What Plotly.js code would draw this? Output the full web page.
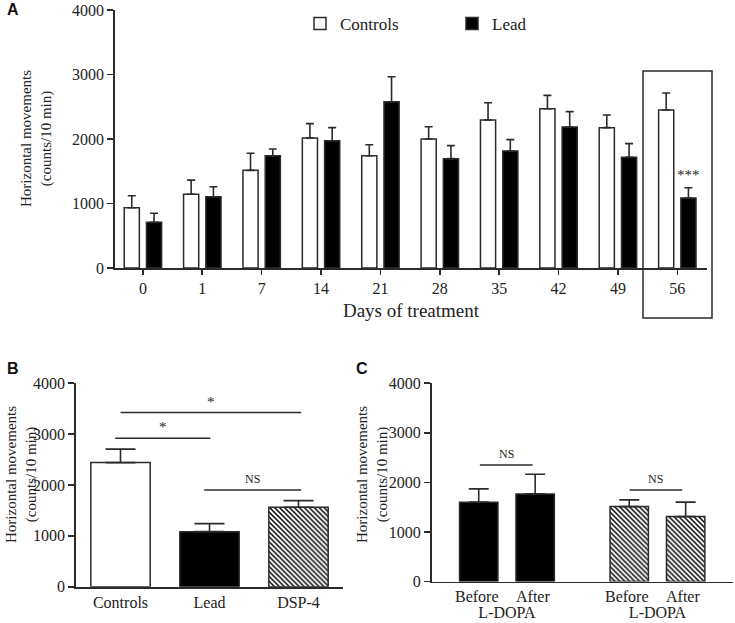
<!DOCTYPE html>
<html>
<head>
<meta charset="utf-8">
<script src="https://cdn.plot.ly/plotly-3.0.1.min.js"></script>
<style>html,body{margin:0;padding:0;background:#fff;}#chart{width:735px;height:623px;}</style>
</head>
<body>
<div id="chart"></div>
<script>
// ---- Panel A data ----
var days = ['0', '1', '7', '14', '21', '28', '35', '42', '49', '56'];
var controlsA = [935, 1143, 1514, 2015, 1741, 2000, 2295, 2470, 2176, 2450];
var controlsAErr = [186, 220, 264, 223, 171, 191, 268, 207, 196, 263];
var leadA = [708, 1105, 1741, 1974, 2578, 1695, 1814, 2186, 1716, 1085];
var leadAErr = [140, 155, 104, 202, 388, 202, 176, 238, 212, 160];

// ---- Panel B data ----
var groupsB = ['Controls', 'Lead', 'DSP-4'];
var valuesB = [2441, 1083, 1563];
var errB = [264, 157, 130];

// ---- Panel C data ----
var groupsC = ['Lead', 'DSP-4'];
var beforeC = [1601, 1512];
var beforeCErr = [268, 135];
var afterC = [1768, 1310];
var afterCErr = [397, 291];

var yTicks = [0, 1000, 2000, 3000, 4000];

var SERIF = 'Liberation Serif';
var SANS = 'Liberation Sans';
var INK = '#2b2b2b';
var TXT = '#222222';

function errUp(arr, w) {
  return {type: 'data', symmetric: false, array: arr, arrayminus: arr.map(function(){return 0;}),
          color: INK, thickness: 1.6, width: w};
}

var HATCH = {fgcolor: '#000000', bgcolor: '#ffffff', size: 3.5, solidity: 0.42};

var traces = [
  {type: 'bar', name: 'Controls', x: days, y: controlsA, xaxis: 'x', yaxis: 'y',
   marker: {color: '#ffffff', line: {color: INK, width: 1.5}}, error_y: errUp(controlsAErr, 4)},
  {type: 'bar', name: 'Lead', x: days, y: leadA, xaxis: 'x', yaxis: 'y',
   marker: {color: '#000000', line: {color: INK, width: 1.5}}, error_y: errUp(leadAErr, 4)},
  {type: 'bar', name: 'Panel B', x: groupsB, y: valuesB, xaxis: 'x2', yaxis: 'y2', showlegend: false,
   width: 0.667,
   marker: {color: ['#ffffff', '#000000', '#000000'], line: {color: INK, width: 1.5},
            pattern: Object.assign({shape: ['', '', '\\']}, HATCH)},
   error_y: errUp(errB, 15)},
  {type: 'bar', name: 'Before L-DOPA', x: groupsC, y: beforeC, xaxis: 'x3', yaxis: 'y3', showlegend: false,
   marker: {color: ['#000000', '#000000'], line: {color: INK, width: 1.5},
            pattern: Object.assign({shape: ['', '\\']}, HATCH)},
   error_y: errUp(beforeCErr, 10)},
  {type: 'bar', name: 'After L-DOPA', x: groupsC, y: afterC, xaxis: 'x3', yaxis: 'y3', showlegend: false,
   marker: {color: ['#000000', '#000000'], line: {color: INK, width: 1.5},
            pattern: Object.assign({shape: ['', '\\']}, HATCH)},
   error_y: errUp(afterCErr, 10)}
];

function yAxis(domain, anchor) {
  return {domain: domain, anchor: anchor, range: [0, 4000], tickvals: yTicks, ticks: 'outside',
          ticklen: 6, tickwidth: 1.6, tickcolor: INK, showline: true, linecolor: INK, linewidth: 1.8,
          showgrid: false, zeroline: false, tickfont: {family: SERIF, size: 16, color: TXT}, fixedrange: true};
}
function xAxis(domain, anchor, extra) {
  var a = {domain: domain, anchor: anchor, type: 'category', showline: true, linecolor: INK, linewidth: 1.8,
           showgrid: false, zeroline: false, tickfont: {family: SERIF, size: 16, color: TXT}, fixedrange: true};
  for (var k in extra) a[k] = extra[k];
  return a;
}

var W = 735, H = 623;
function px(v) { return v / W; }
function py(v) { return 1 - v / H; }

function note(text, x, y, opts) {
  var a = {text: text, xref: 'paper', yref: 'paper', x: x, y: y, xanchor: 'center', yanchor: 'middle',
           showarrow: false, font: {family: SERIF, size: 15, color: TXT}};
  for (var k in opts) a[k] = opts[k];
  return a;
}

var iLast = days.indexOf('56');

var layout = {
  width: W, height: H,
  margin: {l: 0, r: 0, t: 0, b: 0},
  paper_bgcolor: '#ffffff', plot_bgcolor: 'rgba(0,0,0,0)',
  barmode: 'group', bargap: 0.25, bargroupgap: 0.32,
  showlegend: true,
  legend: {orientation: 'h', x: px(300), y: py(6), xanchor: 'left', yanchor: 'top',
           font: {family: SERIF, size: 17, color: TXT}, entrywidth: 107, entrywidthmode: 'pixels',
           bgcolor: 'rgba(0,0,0,0)', traceorder: 'normal'},
  xaxis: xAxis([px(115), px(707)], 'y', {range: [-0.47, 9.5], ticks: 'outside', ticklen: 5, tickwidth: 1.6, tickcolor: INK,
          title: {text: 'Days of treatment', font: {family: SERIF, size: 19, color: TXT}, standoff: 8}}),
  yaxis: yAxis([py(268), py(10)], 'x'),
  xaxis2: xAxis([px(76), px(343)], 'y2', {range: [-0.5, 2.5], ticks: ''}),
  yaxis2: yAxis([py(586.7), py(383.3)], 'x2'),
  xaxis3: xAxis([px(431.7), px(732.7)], 'y3', {range: [-0.5, 1.5], ticks: '',
           tickvals: groupsC, ticktext: ['L-DOPA', 'L-DOPA'], ticklabelstandoff: 15}),
  yaxis3: yAxis([py(581.5), py(383.3)], 'x3'),
  shapes: [
    {type: 'rect', xref: 'paper', yref: 'paper', x0: px(643), x1: px(712), y0: py(318), y1: py(71),
     line: {color: INK, width: 1.5}, fillcolor: 'rgba(0,0,0,0)'},
    {type: 'line', xref: 'x2', yref: 'y2', x0: -0.06, x1: 1.01, y0: 2921, y1: 2921, line: {color: INK, width: 1.5}},
    {type: 'line', xref: 'x2', yref: 'y2', x0: 0.0, x1: 2.03, y0: 3425, y1: 3425, line: {color: INK, width: 1.5}},
    {type: 'line', xref: 'x2', yref: 'y2', x0: 0.94, x1: 2.03, y0: 1903, y1: 1903, line: {color: INK, width: 1.5}},
    {type: 'line', xref: 'x3', yref: 'y3', x0: -0.18, x1: 0.17, y0: 2353, y1: 2353, line: {color: INK, width: 1.5}},
    {type: 'line', xref: 'x3', yref: 'y3', x0: 0.815, x1: 1.165, y0: 1849, y1: 1849, line: {color: INK, width: 1.5}}
  ],
  annotations: [
    note('<b>A</b>', px(13), py(10), {font: {family: SANS, size: 16, color: '#111'}}),
    note('<b>B</b>', px(13), py(368), {font: {family: SANS, size: 16, color: '#111'}}),
    note('<b>C</b>', px(362), py(368), {font: {family: SANS, size: 16, color: '#111'}}),
    note('Horizontal movements<br>(counts/10 min)', px(36), py(139), {textangle: -90}),
    note('Horizontal movements<br>(counts/10 min)', px(21), py(475), {textangle: -90}),
    note('Horizontal movements<br>(counts/10 min)', px(372), py(475), {textangle: -90}),
    {text: '***', xref: 'x', yref: 'y', x: iLast, xshift: 11, y: leadA[iLast] + leadAErr[iLast], xanchor: 'center', yanchor: 'bottom', yshift: 3,
     showarrow: false, font: {family: SERIF, size: 15, color: TXT}},
    {text: '*', xref: 'x2', yref: 'y2', x: 0.475, y: 2921, xanchor: 'center', yanchor: 'bottom', yshift: 1, showarrow: false, font: {family: SERIF, size: 15, color: TXT}},
    {text: '*', xref: 'x2', yref: 'y2', x: 1.015, y: 3425, xanchor: 'center', yanchor: 'bottom', yshift: 1, showarrow: false, font: {family: SERIF, size: 15, color: TXT}},
    {text: 'NS', xref: 'x2', yref: 'y2', x: 1.485, y: 1903, xanchor: 'center', yanchor: 'bottom', yshift: 2, showarrow: false, font: {family: SERIF, size: 12, color: TXT}},
    {text: 'NS', xref: 'x3', yref: 'y3', x: -0.005, y: 2353, xanchor: 'center', yanchor: 'bottom', yshift: 2, showarrow: false, font: {family: SERIF, size: 12, color: TXT}},
    {text: 'NS', xref: 'x3', yref: 'y3', x: 0.99, y: 1849, xanchor: 'center', yanchor: 'bottom', yshift: 2, showarrow: false, font: {family: SERIF, size: 12, color: TXT}},
    {text: 'Before', xref: 'x3', yref: 'y3', x: 'Lead', xshift: -30, y: 0, xanchor: 'center', yanchor: 'top', yshift: -4, showarrow: false, font: {family: SERIF, size: 16, color: TXT}},
    {text: 'After', xref: 'x3', yref: 'y3', x: 'Lead', xshift: 26, y: 0, xanchor: 'center', yanchor: 'top', yshift: -4, showarrow: false, font: {family: SERIF, size: 16, color: TXT}},
    {text: 'Before', xref: 'x3', yref: 'y3', x: 'DSP-4', xshift: -30, y: 0, xanchor: 'center', yanchor: 'top', yshift: -4, showarrow: false, font: {family: SERIF, size: 16, color: TXT}},
    {text: 'After', xref: 'x3', yref: 'y3', x: 'DSP-4', xshift: 26, y: 0, xanchor: 'center', yanchor: 'top', yshift: -4, showarrow: false, font: {family: SERIF, size: 16, color: TXT}}
  ]
};

Plotly.newPlot('chart', traces, layout, {displayModeBar: false, staticPlot: true});
</script>
</body>
</html>
